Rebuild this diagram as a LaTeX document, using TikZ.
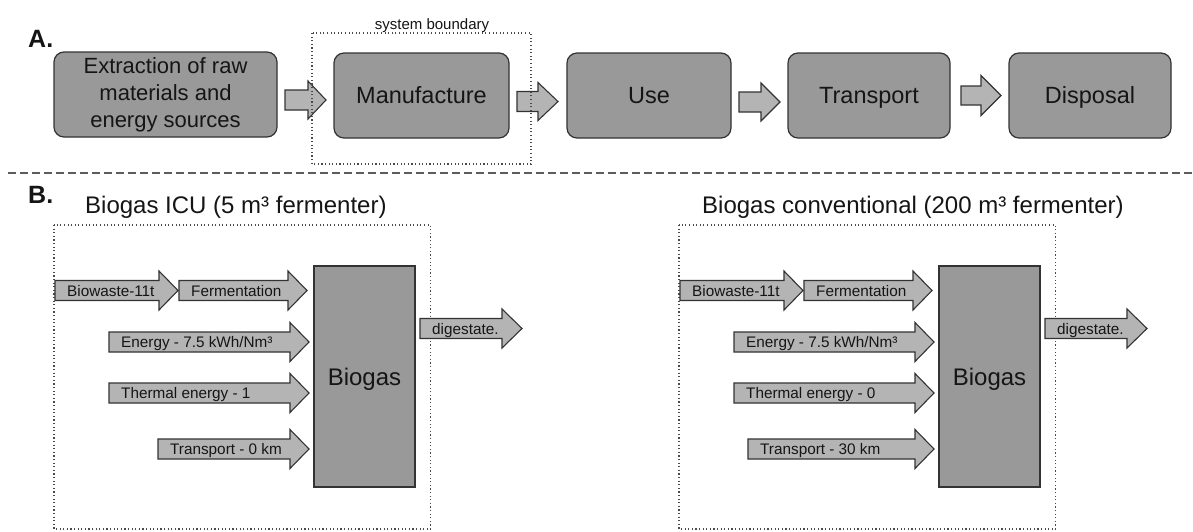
\documentclass[tikz,border=0pt]{standalone}
\usepackage{fontspec}
\setmainfont{Liberation Sans}
\definecolor{boxgray}{HTML}{999999}
\definecolor{arrgray}{HTML}{B4B4B4}
\definecolor{edgec}{HTML}{333333}
\definecolor{dotc}{HTML}{4A4A4A}
\definecolor{txtc}{HTML}{151515}
\newcommand\fatarr[6]{\draw[arrowshape] (#1,#4-#5) -- (#2,#4-#5) -- (#2,#4-#6) -- (#3,#4) -- (#2,#4+#6) -- (#2,#4+#5) -- (#1,#4+#5) -- cycle;}
\newcommand\labarr[6]{\fatarr{#2}{#3}{#4}{#5}{10}{19.5}\node[arrlabel] (#1) at (#2+12,#5+5.5) {#6};}
\begin{document}
\begin{tikzpicture}[x=1pt,y=-1pt,
  stage/.style={draw=edgec, fill=boxgray, line width=1.2pt, rounded corners=10pt,
    inner sep=0pt, text=txtc, font=\fontsize{23.5}{28}\selectfont,
    text height=16.8pt, text depth=0pt, minimum height=85pt},
  procbox/.style={draw=edgec, fill=boxgray, line width=1.2pt, inner sep=0pt,
    text=txtc, font=\fontsize{24}{28}\selectfont, text height=17.2pt, text depth=0pt,
    minimum width=101pt, minimum height=221pt},
  arrowshape/.style={draw=edgec, fill=arrgray, line width=1.1pt, line join=miter},
  arrlabel/.style={anchor=base west, inner sep=0pt, text=txtc, font=\fontsize{15.3}{18}\selectfont},
  bound/.style={draw=dotc, line width=1.1pt, dash pattern=on 1.1pt off 2.5pt},
  sepline/.style={draw=dotc!90, line width=1.5pt, dash pattern=on 8pt off 4pt},
  paneltitle/.style={anchor=base west, inner sep=0pt, text=txtc, font=\fontsize{24}{28}\selectfont},
  partlabel/.style={anchor=base west, inner sep=0pt, text=txtc, font=\fontsize{25}{28}\selectfont\bfseries}
]
\useasboundingbox (0,0) rectangle (1193,531);
\fill[white] (0,0) rectangle (1193,531);

% ---------- Part A ----------
\node[partlabel] (labA) at (28,47) {A.};
\node[stage, minimum width=223pt, text height=, text depth=, align=center,
      font=\fontsize{22}{27}\selectfont] (ext) at (165.5,94.5)
      {Extraction of raw\\materials and\\energy sources};
\node[stage, minimum width=175pt] (man) at (421.5,95.5) {Manufacture};
\node[stage, minimum width=164pt] (use) at (649,95.5) {Use};
\node[stage, minimum width=162pt] (tra) at (869,95.5) {Transport};
\node[stage, minimum width=162pt] (dis) at (1090,95.5) {Disposal};

\fatarr{285}{308}{326}{100}{10}{19}
\fatarr{517}{538}{558}{101.5}{10}{19}
\fatarr{739}{761}{780}{102}{10}{19}
\fatarr{961}{981}{1001}{95.5}{9.5}{20}

\draw[bound] (312,33) rectangle (531,164);
\node[anchor=base, inner sep=0pt, text=txtc, font=\fontsize{15}{18}\selectfont] (sb) at (432,29.5) {system boundary};

\draw[sepline] (8,173) -- (1193,173);

% ---------- Part B ----------
\node[partlabel] (labB) at (28,203) {B.};
\node[paneltitle] (t1) at (85,213) {Biogas ICU (5 m³ fermenter)};
\node[paneltitle] (t2) at (702,213) {Biogas conventional (200 m³ fermenter)};

\draw[bound] (54,225) rectangle (430.5,529);
\draw[bound] (679,225) rectangle (1055.5,529);

% left panel
\node[procbox] (bg1) at (364.5,376.5) {Biogas};
\labarr{bw1}{55}{159}{178}{290.5}{Biowaste-11t}
\labarr{fe1}{179}{288}{307}{290.5}{Fermentation}
\labarr{en1}{109}{290}{309}{342}{Energy - 7.5 kWh/Nm³}
\labarr{th1}{109}{290}{309}{393}{Thermal energy - 1}
\labarr{tr1}{158}{290}{309}{449}{Transport - 0 km}
\labarr{di1}{420}{502}{522}{328.5}{digestate.}

% right panel
\node[procbox] (bg2) at (989.5,376.5) {Biogas};
\labarr{bw2}{680}{784}{803}{290.5}{Biowaste-11t}
\labarr{fe2}{804}{913}{932}{290.5}{Fermentation}
\labarr{en2}{734}{915}{934}{342}{Energy - 7.5 kWh/Nm³}
\labarr{th2}{734}{915}{934}{393}{Thermal energy - 0}
\labarr{tr2}{748}{915}{934}{449}{Transport - 30 km}
\labarr{di2}{1045}{1127}{1147}{328.5}{digestate.}
\end{tikzpicture}
\end{document}
